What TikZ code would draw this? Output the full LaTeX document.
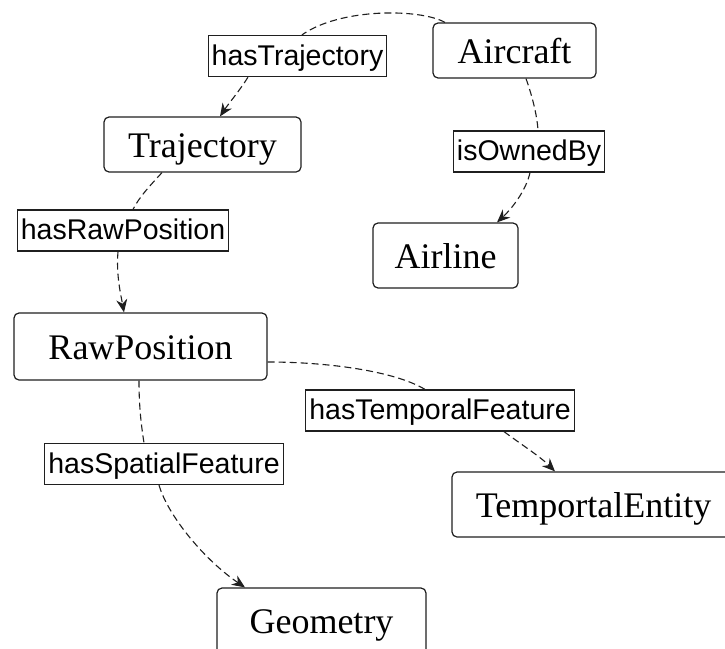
\documentclass[tikz,border=0pt]{standalone}
\usepackage{fontspec}
\setmainfont{Liberation Serif}
\newfontfamily\labelfont{Liberation Sans}
\usetikzlibrary{arrows.meta,calc}

\tikzset{
  entity/.style={draw=black!88, line width=1.2pt, rounded corners=5pt, fill=white,
    inner sep=0pt, text height=30pt, text depth=5pt,
    font=\fontsize{36}{40}\selectfont},
  relation/.style={draw=black!88, line width=1.2pt, fill=white,
    inner xsep=3.5pt, inner ysep=0pt, minimum height=41pt,
    text height=23pt, text depth=5pt,
    font=\labelfont\fontsize{28.5}{32}\selectfont},
  link/.style={draw=black!88, line width=1.1pt, dash pattern=on 7pt off 4pt},
  linkarrow/.style={link, -{Stealth[length=13pt,width=11pt]}}
}

\begin{document}
\begin{tikzpicture}[x=1pt,y=-1pt]
  \useasboundingbox (0,0) rectangle (725,648);
  \clip (0,0) rectangle (725,648);

  % classes
  \node[entity, minimum width=163pt, minimum height=55pt] (air)     at (514.5,50.5)  {Aircraft};
  \node[entity, minimum width=197pt, minimum height=55pt] (traj)    at (202.5,144.5) {Trajectory};
  \node[entity, minimum width=145pt, minimum height=65pt] (airline) at (445.5,255.5) {Airline};
  \node[entity, minimum width=253pt, minimum height=67pt] (raw)     at (140.5,346.5) {RawPosition};
  \node[entity, minimum width=283pt, minimum height=65pt] (temp)    at (593.5,504.5) {TemportalEntity};
  \node[entity, minimum width=209pt, minimum height=66pt] (geo)     at (321.5,621)   {Geometry};

  % property labels
  \node[relation] (hastraj) at (297.5,56)  {hasTrajectory};
  \node[relation] (owned)   at (529,151.5) {isOwnedBy};
  \node[relation] (hasraw)  at (123,230.5) {hasRawPosition};
  \node[relation] (hastemp) at (440,410.5) {hasTemporalFeature};
  \node[relation] (hasspat) at (164,464)   {hasSpatialFeature};

  % Aircraft -- hasTrajectory --> Trajectory
  \draw[link] ($(air.north)+(-69.5,0)$) .. controls +(-25,-14) and +(38,-27) .. ($(hastraj.north)+(4.5,0)$);
  \draw[linkarrow] ($(hastraj.south)+(-49.5,0)$) .. controls +(-8,13) and +(8,-12) .. ($(traj.north)+(17.5,0)$);

  % Aircraft -- isOwnedBy --> Airline
  \draw[link] ($(air.south)+(11.5,0)$) .. controls +(6,17) and +(-1,-16) .. ($(owned.north)+(9,0)$);
  \draw[linkarrow] ($(owned.south)+(1,0)$) .. controls +(-4,18) and +(15,-14) .. ($(airline.north)+(51.5,0)$);

  % Trajectory -- hasRawPosition --> RawPosition
  \draw[link] ($(traj.south)+(-40.5,0)$) .. controls +(-12,13) and +(6,-12) .. ($(hasraw.north)+(10,0)$);
  \draw[linkarrow] ($(hasraw.south)+(-5,0)$) .. controls +(-2,24) and +(-3,-17) .. ($(raw.north)+(-16.5,0)$);

  % RawPosition -- hasTemporalFeature --> TemportalEntity
  \draw[link] ($(raw.east)+(0,15.5)$) .. controls +(62,0) and +(-30,-18) .. ($(hastemp.north)+(-15,0)$);
  \draw[linkarrow] ($(hastemp.south)+(64,0)$) .. controls +(16,12) and +(-15,-15) .. ($(temp.north)+(-38.5,0)$);

  % RawPosition -- hasSpatialFeature --> Geometry
  \draw[link] ($(raw.south)+(-1.5,0)$) .. controls +(0,25) and +(-3,-19) .. ($(hasspat.north)+(-20,0)$);
  \draw[linkarrow] ($(hasspat.south)+(-5,0)$) .. controls +(9,31) and +(-40,-27) .. ($(geo.north)+(-76.5,0)$);
\end{tikzpicture}
\end{document}
